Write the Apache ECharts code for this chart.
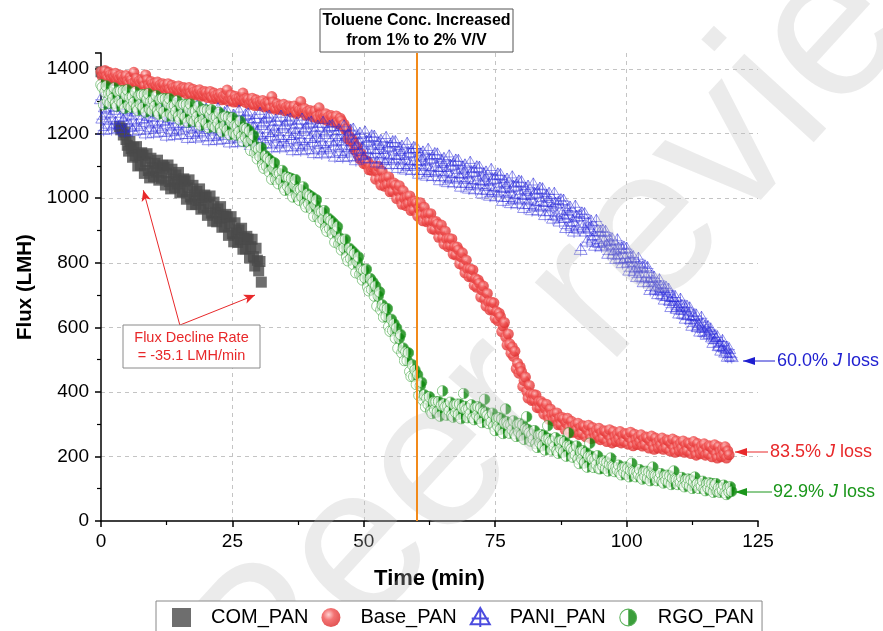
<!DOCTYPE html>
<html>
<head>
<meta charset="utf-8">
<script src="https://cdn.jsdelivr.net/npm/echarts@6/dist/echarts.min.js"></script>
<style>
html, body { margin: 0; padding: 0; background: #fff; }
#mainChart { width: 883px; height: 631px; }
</style>
</head>
<body>
<div id="mainChart"></div>
<script>
// 采样间隔 (min)，每个通量数组从 t=0 开始；null 表示该时刻无数据
var sampleStep = 0.25;

// COM_PAN 通量 (LMH)，t = 0 ~ 30.5 min
var comFlux = [1392,1390,1388,1385,1382,1378,1375,1372,1368,1365,null,null,null,null,1222,1212,1216,1196,1205,1182,
1164,1146,1176,1154,1127,1158,1132,1160,1100,1135,1102,1141,1133,1077,1113,1138,1086,1063,1124,1094,
1067,1108,1081,1118,1056,1093,1062,1102,1096,1041,1078,1103,1052,1029,1090,1059,1032,1072,1044,1080,
1017,1053,1021,1060,1053,997,1032,1057,1004,980,1040,1009,981,1021,993,1029,966,1002,970,1010,
1003,947,982,1007,954,929,988,956,927,967,938,974,910,945,912,950,942,885,920,943,
890,865,924,892,863,902,872,907,842,877,843,882,873,815,850,873,819,790,845,808,
775,804,740];

// Base_PAN 通量，t = 0 ~ 119.5 min
var baseFlux = [1392,1377,1388,1396,1378,1372,1390,1382,1371,1383,1376,1387,1366,1377,1369,1381,1376,1361,1372,1380,
1362,1356,1374,1366,1356,1390,1361,1372,1352,1363,1355,1367,1363,1348,1382,1367,1350,1344,1362,1354,
1344,1356,1349,1360,1340,1351,1343,1355,1351,1336,1347,1355,1338,1332,1350,1342,1332,1344,1337,1348,
1328,1339,1331,1343,1339,1324,1335,1343,1326,1320,1338,1330,1320,1332,1325,1336,1316,1327,1319,1331,
1327,1312,1323,1331,1314,1308,1326,1318,1309,1321,1314,1325,1305,1316,1308,1320,1335,1301,1312,1320,
1304,1298,1316,1308,1298,1310,1303,1314,1326,1305,1297,1309,1306,1291,1302,1310,1293,1287,1305,1297,
1287,1299,1292,1303,1283,1294,1286,1298,1294,1279,1315,1298,1281,1275,1293,1285,1275,1287,1280,1291,
1271,1282,1274,1286,1282,1267,1278,1286,1268,1262,1280,1272,1300,1274,1267,1278,1257,1268,1260,1272,
1267,1252,1263,1271,1253,1247,1280,1257,1246,1258,1251,1262,1241,1252,1244,1256,1251,1236,1247,1255,
1236,1230,1248,1240,1225,1229,1213,1214,1185,1192,1176,1183,1175,1150,1156,1159,1135,1122,1138,1121,
1107,1117,1105,1113,1088,1099,1086,1096,1100,1059,1083,1099,1060,1041,1083,1059,1037,1063,1043,1066,
1020,1044,1021,1047,1040,999,1023,1039,1000,981,1023,999,977,1004,984,1007,962,987,964,991,
985,945,969,986,948,930,972,948,927,952,930,952,905,928,903,928,920,879,902,917,
878,858,898,873,850,875,853,874,827,850,824,849,840,797,818,831,790,769,808,781,
757,781,758,778,730,751,724,747,737,694,715,728,687,666,705,678,654,678,655,676,
628,649,621,644,633,587,604,615,570,545,579,549,520,539,510,526,472,489,458,477,
463,417,435,446,402,381,420,393,373,392,373,390,351,369,350,370,364,331,349,362,
330,315,347,328,311,332,316,335,298,318,299,321,316,284,304,318,288,274,309,291,
275,298,283,303,268,289,272,295,292,261,282,297,268,255,290,273,258,281,266,287,
252,273,257,280,277,246,268,283,254,242,277,261,246,270,255,277,242,264,247,271,
268,238,259,275,246,233,269,252,237,260,246,267,232,253,237,260,257,226,248,263,
234,222,257,241,226,250,235,257,222,244,227,251,248,217,239,254,225,213,248,232,
217,241,226,248,213,235,218,242,239,209,230,246,217,204,240,223,208,232,217,239,
204,226,209,233,230,199,221,236,207,195,230,214,199,223,208,230,
195,217,205];

// PANI_PAN 通量，t = 0 ~ 120 min
var paniFlux = [1307,1247,1212,1282,1266,1296,1231,1251,1214,1309,1274,1234,1283,1218,1298,1253,1302,1242,1207,1277,
1260,1290,1225,1245,1209,1304,1269,1229,1277,1212,1292,1247,1296,1236,1201,1271,1255,1285,1220,1240,
1203,1298,1263,1223,1271,1206,1286,1241,1289,1229,1194,1264,1248,1278,1213,1233,1196,1291,1256,1216,
1264,1199,1279,1234,1282,1222,1187,1257,1240,1270,1205,1225,1188,1283,1248,1208,1257,1192,1272,1227,
1275,1215,1180,1250,1233,1263,1198,1218,1181,1276,1241,1201,1249,1184,1264,1219,1268,1208,1173,1243,
1226,1256,1191,1211,1174,1269,1234,1194,1242,1177,1257,1212,1260,1200,1165,1235,1219,1249,1184,1204,
1167,1262,1227,1187,1235,1170,1250,1205,1253,1193,1158,1228,1211,1241,1176,1196,1158,1253,1218,1178,
1226,1161,1241,1196,1244,1184,1149,1219,1202,1232,1167,1187,1149,1244,1209,1169,1217,1152,1232,1187,
1235,1175,1140,1210,1192,1222,1157,1177,1139,1234,1199,1159,1207,1142,1222,1177,1224,1164,1129,1199,
1181,1211,1146,1166,1128,1223,1188,1148,1195,1130,1210,1165,1213,1153,1118,1188,1170,1200,1135,1155,
1124,1204,1175,1141,1179,1124,1192,1154,1191,1140,1111,1170,1153,1178,1124,1141,1107,1187,1158,1124,
1161,1106,1174,1136,1174,1123,1094,1153,1135,1160,1106,1123,1089,1169,1140,1106,1143,1088,1156,1118,
1156,1105,1076,1135,1117,1142,1088,1105,1070,1150,1121,1087,1124,1069,1137,1099,1136,1085,1056,1115,
1097,1122,1068,1085,1050,1130,1101,1067,1104,1049,1117,1079,1116,1065,1036,1095,1077,1102,1048,1065,
1030,1110,1081,1047,1083,1028,1096,1058,1095,1044,1015,1074,1055,1080,1026,1043,1008,1088,1059,1025,
1061,1006,1074,1036,1072,1021,992,1051,1033,1058,1004,1021,985,1065,1036,1002,1039,984,1052,1014,
1050,999,970,1029,1011,1036,982,999,963,1043,1014,980,1017,962,1030,992,1028,977,948,1007,
989,1014,960,977,937,1014,983,946,986,928,994,953,993,939,908,964,949,971,915,929,
897,974,943,906,945,840,953,912,951,897,866,922,906,928,872,886,853,930,899,862,
896,851,899,867,896,854,828,870,857,873,828,838,812,870,844,815,844,799,847,815,
844,801,776,817,803,818,774,783,756,813,788,758,786,740,789,756,784,741,716,757,
742,754,718,724,703,746,726,702,722,686,723,697,717,683,663,694,682,694,658,664,
643,686,666,642,663,627,664,638,659,625,605,636,625,637,601,607,587,630,610,586,
604,577,601,580,594,569,552,572,563,570,542,544,528,558,541,522,536,509,533,512,
508];

// RGO_PAN 通量，t = 0 ~ 120 min
var rgoFlux = [1352,1344,1290,1329,1348,1300,1324,1294,1327,1309,1342,1294,1285,1330,1303,1333,1294,1333,1279,1318,
1336,1288,1312,1282,1315,1297,1330,1282,1273,1318,1291,1321,1282,1321,1267,1306,1324,1276,1300,1270,
1303,1285,1318,1270,1261,1306,1279,1309,1269,1308,1254,1293,1309,1261,1285,1255,1287,1269,1302,1254,
1243,1288,1261,1291,1251,1290,1236,1275,1292,1244,1268,1238,1270,1252,1285,1237,1226,1271,1244,1274,
1234,1273,1219,1258,1274,1226,1250,1220,1251,1233,1266,1218,1206,1251,1224,1254,1212,1251,1197,1236,
1250,1202,1226,1196,1224,1206,1239,1191,1176,1218,1189,1216,1175,1208,1148,1181,1195,1141,1159,1122,
1152,1129,1157,1104,1093,1132,1100,1124,1082,1117,1059,1093,1110,1058,1079,1045,1077,1056,1086,1034,
1025,1067,1037,1064,1025,1061,1004,1040,1058,1007,1028,994,1027,1005,1035,983,973,1014,983,1008,
968,1003,944,979,995,942,961,926,957,934,962,909,898,938,906,931,890,923,864,897,
912,858,876,840,870,846,873,818,806,845,813,837,795,829,769,803,818,764,783,747,
777,753,780,725,713,751,717,740,697,728,666,697,710,654,670,632,660,634,658,602,
588,625,590,611,567,598,535,566,578,521,536,497,524,497,521,463,448,484,447,468,
423,453,389,419,430,375,391,354,380,361,385,341,333,369,345,370,338,370,325,358,
403,363,353,328,356,341,368,328,322,359,336,362,330,362,317,350,395,355,345,320,
348,333,360,320,314,351,328,354,318,350,305,338,377,337,327,302,322,307,334,294,
280,317,294,320,284,316,271,304,347,307,297,272,298,283,310,270,262,299,276,302,
266,298,253,286,323,283,273,248,268,253,280,240,228,265,242,268,233,265,220,253,
295,255,245,220,246,231,258,218,210,247,224,250,214,246,201,234,273,233,223,198,
220,205,232,192,178,215,192,218,180,212,167,200,241,201,191,166,190,175,202,162,
162,184,170,186,163,182,155,175,195,171,168,153,166,157,173,150,143,165,151,167,
145,164,137,157,179,155,152,137,152,143,159,136,130,152,138,154,133,152,125,145,
167,143,140,125,140,131,147,124,118,140,126,142,121,140,113,133,155,131,128,113,
128,119,135,112,106,128,114,130,109,128,101,121,136,112,116,101,116,107,123,100,
94,116,102,118,97,116,89,109,116,92,104,89,104,95,111,88,82,104,90,106,
92];

var seriesNames = ['COM_PAN', 'Base_PAN', 'PANI_PAN', 'RGO_PAN'];
var xTicks = { min: 0, max: 125, interval: 25 };
var yTicks = { min: 0, max: 1450, interval: 200 };
var tolueneTime = 60;   // 甲苯浓度提高的时刻 (min)
var lossLabels = ['60.0%', '83.5%', '92.9%'];

var FONT = '"Liberation Sans", Arial, sans-serif';

function toPairs(arr) {
    return arr.map(function (v, i) { return [i * sampleStep, v == null ? '-' : v]; });
}

// RGO_PAN 半填充圆
var rgoSvg = "<svg xmlns='http://www.w3.org/2000/svg' width='26' height='26'>" +
    "<path d='M13 1.5A11.5 11.5 0 0 0 13 24.5Z' fill='#ffffff' fill-opacity='0.85'/>" +
    "<path d='M13 1.5A11.5 11.5 0 0 1 13 24.5Z' fill='#0b870b'/>" +
    "<circle cx='13' cy='13' r='11.5' fill='none' stroke='#35a035' stroke-width='1.5'/></svg>";
var rgoSymbol = 'image://data:image/svg+xml;charset=utf-8,' + encodeURIComponent(rgoSvg);

// PANI_PAN 三角加十字
var paniSymbol = 'path://M10,0L20,17L0,17Z M10,0L10,20 M1,11L19,11';

var myChart = echarts.init(document.getElementById('mainChart'));

function arrowLine(x1, y1, x2, y2, color) {
    return [
        { type: 'line', silent: true, z: 50, shape: { x1: x1, y1: y1, x2: x2, y2: y2 }, style: { stroke: color, lineWidth: 1 } },
        { type: 'polygon', silent: true, z: 50, shape: { points: [[x2, y2], [x2 + 12, y2 - 4], [x2 + 12, y2 + 4]] }, style: { fill: color } }
    ];
}

function lossText(x, y, pct, color) {
    return {
        type: 'text', silent: true, z: 50, x: x, y: y,
        style: {
            text: '{a|' + pct + ' }{b|J}{a| loss}',
            rich: {
                a: { fontSize: 18, fontFamily: FONT, fill: color },
                b: { fontSize: 18, fontFamily: FONT, fill: color, fontStyle: 'italic' }
            },
            align: 'left', verticalAlign: 'middle', textAlign: 'left', textVerticalAlign: 'middle'
        }
    };
}

var graphics = [
    // 水印
    { type: 'text', silent: true, z: 3, x: 600, y: 290, rotation: 0.83,
      style: { text: 'Peer review', fontSize: 210, fontFamily: FONT, fill: 'rgba(190,190,190,0.3)',
               align: 'center', verticalAlign: 'middle', textAlign: 'center', textVerticalAlign: 'middle' } },
    // 顶部说明框
    { type: 'rect', silent: true, z: 50, shape: { x: 320, y: 9, width: 193, height: 43 }, style: { fill: '#fff', stroke: '#555', lineWidth: 1 } },
    { type: 'text', silent: true, z: 51, x: 416.5, y: 30.5,
      style: { text: 'Toluene Conc. Increased\nfrom 1% to 2% V/V', fontSize: 16, fontWeight: 'bold', fontFamily: FONT, fill: '#000',
               lineHeight: 20, align: 'center', verticalAlign: 'middle', textAlign: 'center', textVerticalAlign: 'middle' } },
    // 左侧下降速率说明框
    { type: 'rect', silent: true, z: 50, shape: { x: 123, y: 325, width: 137, height: 43 }, style: { fill: '#fff', stroke: '#8a8a8a', lineWidth: 1 } },
    { type: 'text', silent: true, z: 51, x: 191.5, y: 347,
      style: { text: 'Flux Decline Rate\n= -35.1 LMH/min', fontSize: 14.5, fontFamily: FONT, fill: '#e8282a',
               lineHeight: 18, align: 'center', verticalAlign: 'middle', textAlign: 'center', textVerticalAlign: 'middle' } },
    lossText(777, 361, lossLabels[0], '#1e1ed0'),
    lossText(770, 452, lossLabels[1], '#e8282a'),
    lossText(773, 492, lossLabels[2], '#1a961a')
].concat(arrowLine(775, 361, 743, 361, '#1e1ed0'))
 .concat(arrowLine(768, 452, 735, 452, '#e8282a'))
 .concat(arrowLine(772, 492, 735, 492, '#1a961a'));

var axisCommon = {
    type: 'value',
    nameLocation: 'middle',
    axisLine: { show: true, onZero: false, lineStyle: { color: '#000', width: 1.5 } },
    axisTick: { show: true, inside: false, length: 6, lineStyle: { color: '#000', width: 1.5 } },
    minorTick: { show: true, splitNumber: 2, length: 4, lineStyle: { color: '#000', width: 1.2 } },
    splitLine: { show: true, showMinLine: false, showMaxLine: false, lineStyle: { color: '#c4c4c4', type: [4, 4], width: 1 } }
};

function plainLabel(v) { return String(v); }

myChart.setOption({
    animation: false,
    backgroundColor: '#fff',
    grid: { left: 101, right: 125, top: 53, bottom: 110, outerBoundsMode: 'none', containLabel: false },
    xAxis: echarts.util.merge({
        min: xTicks.min, max: xTicks.max, interval: xTicks.interval,
        name: 'Time (min)', nameGap: 47,
        nameTextStyle: { fontSize: 22, fontWeight: 'bold', color: '#000', fontFamily: FONT },
        axisLabel: { fontSize: 19, color: '#000', margin: 11, fontFamily: FONT, formatter: plainLabel }
    }, axisCommon),
    yAxis: echarts.util.merge({
        min: yTicks.min, max: yTicks.max, interval: yTicks.interval,
        name: 'Flux (LMH)', nameGap: 59,
        nameTextStyle: { fontSize: 20.5, fontWeight: 'bold', color: '#000', fontFamily: FONT },
        axisLabel: { fontSize: 19, color: '#000', margin: 12, fontFamily: FONT, showMaxLabel: false, formatter: plainLabel }
    }, axisCommon),
    legend: {
        left: 156, top: 601, orient: 'horizontal', z: 10,
        itemGap: 13, itemWidth: 19, itemHeight: 19,
        padding: [6, 8, 10, 16],
        backgroundColor: '#fff',
        borderColor: '#888', borderWidth: 1,
        textStyle: { fontSize: 20, color: '#000', fontFamily: FONT, padding: [0, 0, 0, 15] },
        data: seriesNames
    },
    graphic: graphics,
    series: [
        {
            name: seriesNames[0], type: 'scatter', data: toPairs(comFlux),
            symbol: 'rect', symbolSize: 11,
            itemStyle: { color: '#4a4a4a' },
            markLine: {
                silent: true, symbol: ['none', 'arrow'], symbolSize: [7, 11],
                label: { show: false },
                lineStyle: { color: '#e8282a', width: 1, type: 'solid' },
                data: [
                    [{ coord: [15.0, 607] }, { coord: [8.05, 1025] }],
                    [{ coord: [15.0, 607] }, { coord: [29.3, 700] }]
                ]
            }
        },
        {
            name: seriesNames[1], type: 'scatter', data: toPairs(baseFlux),
            symbol: 'circle', symbolSize: 11,
            itemStyle: {
                color: { type: 'radial', x: 0.38, y: 0.35, r: 0.65,
                         colorStops: [{ offset: 0, color: '#ffc8c8' }, { offset: 0.45, color: '#f05050' }, { offset: 1, color: '#dc2b2b' }] }
            }
        },
        {
            name: seriesNames[2], type: 'scatter', data: toPairs(paniFlux),
            symbol: paniSymbol, symbolSize: [13, 13],
            itemStyle: { color: 'rgba(0,0,0,0)', borderColor: '#2b2bd9', borderWidth: 0.6, opacity: 0.85 }
        },
        {
            name: seriesNames[3], type: 'scatter', data: toPairs(rgoFlux),
            symbol: rgoSymbol, symbolSize: 12,
            itemStyle: { color: '#0b870b' },
            markLine: {
                silent: true, symbol: ['none', 'none'],
                label: { show: false },
                lineStyle: { color: '#f28a1a', width: 2, type: 'solid' },
                data: [{ xAxis: tolueneTime }]
            }
        }
    ]
});
</script>
</body>
</html>
